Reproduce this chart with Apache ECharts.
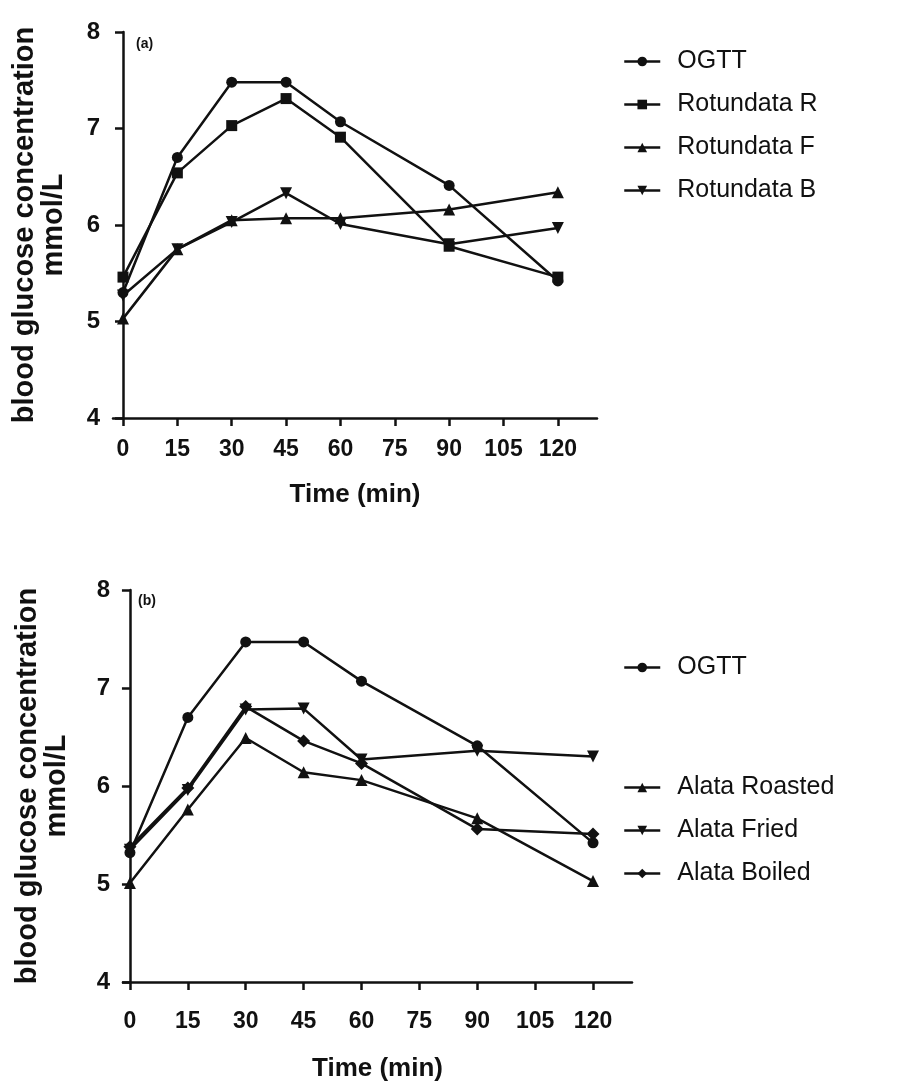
<!DOCTYPE html>
<html>
<head>
<meta charset="utf-8">
<script src="https://cdn.jsdelivr.net/npm/echarts@6/dist/echarts.min.js"></script>
<style>
html,body{margin:0;padding:0;background:#fff;}
#chart{width:899px;height:1088px;}
</style>
</head>
<body>
<div id="chart"></div>
<script>
// ---- data ----
const times = [0, 15, 30, 45, 60, 90, 120];
const xTicks = [0, 15, 30, 45, 60, 75, 90, 105, 120];
const yTicks = [4, 5, 6, 7, 8];

// panel (a)
const ogttA      = [5.30, 6.70, 7.48, 7.48, 7.07, 6.41, 5.42];
const rotundataR = [5.46, 6.54, 7.03, 7.31, 6.91, 5.78, 5.46];
const rotundataF = [5.03, 5.75, 6.05, 6.07, 6.07, 6.16, 6.34];
const rotundataB = [5.27, 5.75, 6.03, 6.33, 6.01, 5.80, 5.97];

// panel (b)
const ogttB        = [5.32, 6.70, 7.47, 7.47, 7.07, 6.41, 5.42];
const alataRoasted = [5.01, 5.76, 6.49, 6.14, 6.06, 5.67, 5.03];
const alataFried   = [5.35, 5.96, 6.78, 6.79, 6.27, 6.36, 6.30];
const alataBoiled  = [5.38, 5.98, 6.81, 6.46, 6.23, 5.56, 5.51];

const namesA = ['OGTT', 'Rotundata R', 'Rotundata F', 'Rotundata B'];
const namesB = ['OGTT ', 'Alata Roasted', 'Alata Fried', 'Alata Boiled'];

// ---- styling ----
const INK = '#111';
const tickFont = "'Liberation Sans',Arial,sans-serif";
const textFont = "'Liberation Sans',Arial,sans-serif";

function pair(vals) { return times.map((t, i) => [t, vals[i]]); }

function makeSeries(name, vals, symbol, idx, rotate) {
  return {
    name: name,
    type: 'line',
    xAxisIndex: idx, yAxisIndex: idx,
    data: pair(vals),
    symbol: symbol,
    symbolSize: symbol === 'diamond' ? 13 : (symbol === 'triangle' ? 12 : 11),
    symbolRotate: rotate || 0,
    showAllSymbol: true,
    lineStyle: { color: INK, width: 2.5 },
    itemStyle: { color: INK, borderWidth: 0 },
    emphasis: { disabled: true },
    z: 3
  };
}

function xAxisDef(gridIndex, min, max, labelMargin, nameGap) {
  return {
    type: 'value', gridIndex: gridIndex, min: min, max: max,
    name: 'Time (min)', nameLocation: 'middle', nameGap: nameGap,
    nameTextStyle: { fontFamily: textFont, fontWeight: 'bold', fontSize: 26, color: INK },
    axisLine: { show: true, onZero: false, lineStyle: { color: INK, width: 2.5 } },
    axisTick: { show: true, customValues: xTicks, length: 8, lineStyle: { color: INK, width: 2.5 } },
    axisLabel: { customValues: xTicks, margin: labelMargin, fontFamily: tickFont, fontWeight: 'bold', fontSize: 23, color: INK },
    splitLine: { show: false }
  };
}

function yAxisDef(gridIndex, nameGap) {
  return {
    type: 'value', gridIndex: gridIndex, min: 4, max: 8, interval: 1,
    name: 'blood glucose concentration\nmmol/L', nameLocation: 'middle', nameRotate: 90, nameGap: nameGap,
    nameTextStyle: { fontFamily: textFont, fontWeight: 'bold', fontSize: 29, lineHeight: 29, color: INK, align: 'center' },
    axisLine: { show: true, onZero: true, lineStyle: { color: INK, width: 2.5 } },
    axisTick: { show: true, length: 8, lineStyle: { color: INK, width: 2.5 } },
    axisLabel: { customValues: yTicks, margin: 13, fontFamily: tickFont, fontWeight: 'bold', fontSize: 24, color: INK },
    splitLine: { show: false }
  };
}

function legendDef(names, left, top) {
  return {
    data: names, left: left, top: top, orient: 'vertical',
    itemWidth: 36, itemHeight: 12, itemGap: 18,
    selectedMode: false,
    textStyle: { fontFamily: textFont, fontSize: 25, color: INK, padding: [0, 0, 0, 12] },
    lineStyle: { width: 2.5, color: INK },
    itemStyle: { color: INK }
  };
}

const chart = echarts.init(document.getElementById('chart'), null, { renderer: 'canvas' });
chart.setOption({
  animation: false,
  backgroundColor: '#fff',
  grid: [
    { left: 113, top: 32, width: 484, height: 386, containLabel: false, outerBoundsMode: 'none' },
    { left: 123, top: 590, width: 509, height: 392, containLabel: false, outerBoundsMode: 'none' }
  ],
  xAxis: [
    xAxisDef(0, -2.76, 130.8, 20, 64),
    xAxisDef(1, -1.8, 130.1, 28, 74)
  ],
  yAxis: [yAxisDef(0, 45), yAxisDef(1, 52)],
  legend: [
    legendDef(namesA, 618, 44),
    legendDef([namesB[0]], 618, 650),
    legendDef(namesB.slice(1), 618, 770)
  ],
  graphic: [
    { type: 'text', left: 136, top: 37, style: { text: '(a)', fontFamily: textFont, fontSize: 14, fontWeight: 'bold', fill: INK } },
    { type: 'text', left: 138, top: 594, style: { text: '(b)', fontFamily: textFont, fontSize: 14, fontWeight: 'bold', fill: INK } }
  ],
  series: [
    makeSeries(namesA[0], ogttA, 'circle', 0),
    makeSeries(namesA[1], rotundataR, 'rect', 0),
    makeSeries(namesA[2], rotundataF, 'triangle', 0),
    makeSeries(namesA[3], rotundataB, 'triangle', 0, 180),
    makeSeries(namesB[0], ogttB, 'circle', 1),
    makeSeries(namesB[1], alataRoasted, 'triangle', 1),
    makeSeries(namesB[2], alataFried, 'triangle', 1, 180),
    makeSeries(namesB[3], alataBoiled, 'diamond', 1)
  ]
});
</script>
</body>
</html>
